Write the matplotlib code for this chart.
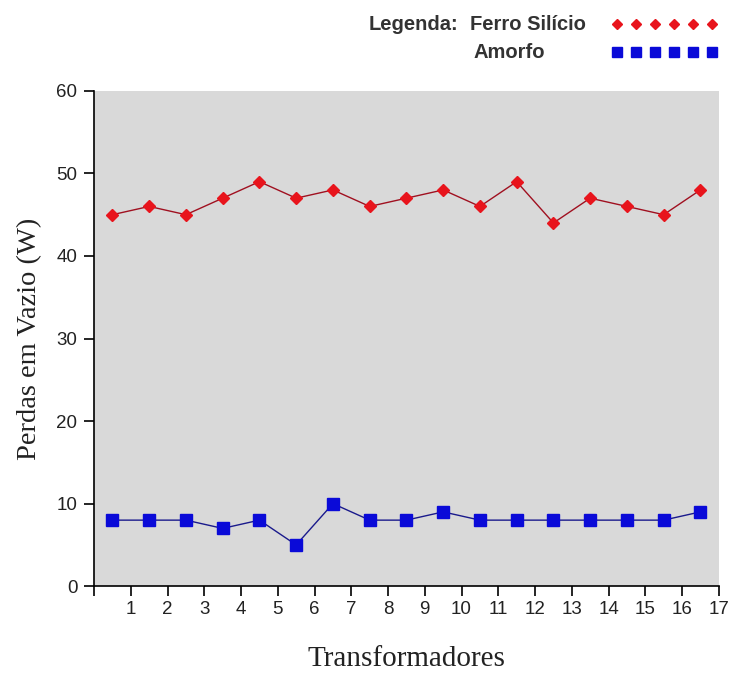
import matplotlib
matplotlib.use("Agg")
import matplotlib.pyplot as plt
from matplotlib.lines import Line2D

# data (17 transformers)
transformadores = list(range(1, 18))
ferro_silicio = [45, 46, 45, 47, 49, 47, 48, 46, 47, 48, 46, 49, 44, 47, 46, 45, 48]
amorfo = [8, 8, 8, 7, 8, 5, 10, 8, 8, 9, 8, 8, 8, 8, 8, 8, 9]
x_ticks = list(range(0, 18))
y_ticks = [0, 10, 20, 30, 40, 50, 60]

fig = plt.figure(figsize=(7.29, 6.73), dpi=100)
ax = fig.add_axes([0.129, 0.129, 0.857, 0.736])
ax.set_facecolor("#d9d9d9")

xs = [t - 0.5 for t in transformadores]   # categories sit between the ticks
ax.plot(xs, ferro_silicio, "-", color="#a01020", lw=1.0,
        marker="D", ms=6.5, mfc="#e8141c", mec="#e8141c", label="Ferro Silício")
ax.plot(xs, amorfo, "-", color="#1a1a8c", lw=1.0,
        marker="s", ms=8, mfc="#0a0ad8", mec="#0a0ad8", label="Amorfo")

ax.set_xlim(0, 17)
ax.set_ylim(0, 60)
ax.set_xticks(x_ticks)
ax.set_xticklabels([""] + [str(t) for t in transformadores])
ax.set_yticks(y_ticks)
ax.tick_params(axis="both", direction="out", length=7, width=1.2, color="black",
               labelsize=13.5, labelcolor="#222222")
ax.tick_params(axis="y", pad=5)
for lab in ax.get_xticklabels() + ax.get_yticklabels():
    lab.set_family("Liberation Sans")
ax.spines["top"].set_visible(False)
ax.spines["right"].set_visible(False)
ax.spines["left"].set_linewidth(1.2)
ax.spines["bottom"].set_linewidth(1.2)

ax.set_ylabel("Perdas em Vazio (W)", family="Liberation Serif", fontsize=20.5,
              color="#222222", labelpad=10)
ax.set_xlabel("Transformadores", family="Liberation Serif", fontsize=21,
              color="#222222", labelpad=20)

# hand-made legend in the top right corner
lg = dict(family="Liberation Sans", fontsize=14.5, fontweight="bold", color="#333333",
          va="center")
fig.text(369 / 729, 1 - 24 / 673, "Legenda:", **lg)
fig.text(470 / 729, 1 - 24 / 673, "Ferro Silício", **lg)
fig.text(474 / 729, 1 - 52 / 673, "Amorfo", **lg)
mx = [(617 + 19 * i) / 729 for i in range(6)]
fig.add_artist(Line2D(mx, [1 - 24 / 673] * 6, transform=fig.transFigure, ls="none",
                      marker="D", ms=5, mfc="#e8141c", mec="#e8141c"))
fig.add_artist(Line2D(mx, [1 - 52 / 673] * 6, transform=fig.transFigure, ls="none",
                      marker="s", ms=6.5, mfc="#0a0ad8", mec="#0a0ad8"))

fig.savefig("out.png", dpi=100, facecolor="white")
